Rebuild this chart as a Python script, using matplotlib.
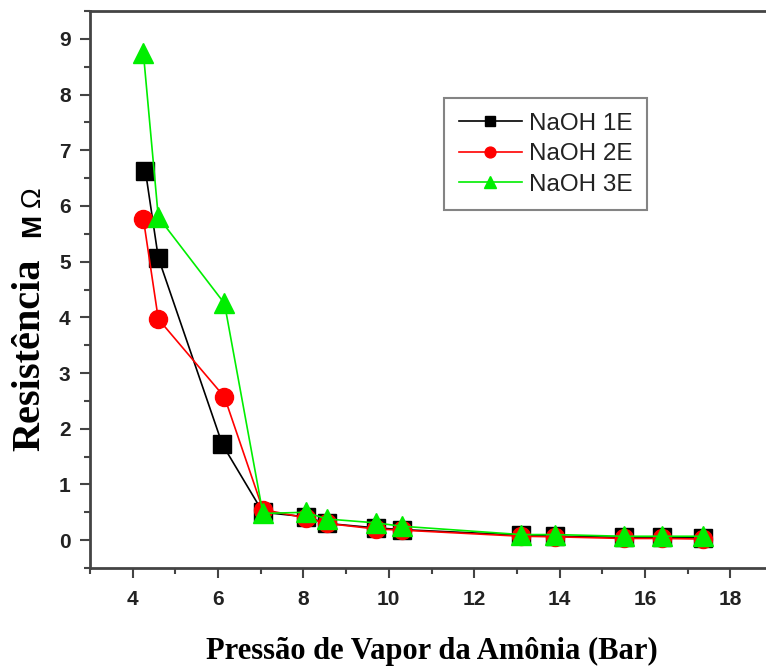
import matplotlib
matplotlib.use("Agg")
import matplotlib.pyplot as plt
from matplotlib.ticker import MultipleLocator

# pressure (bar) for each sample
x_1e = [4.3, 4.6, 6.1, 7.05, 8.05, 8.55, 9.7, 10.3, 13.1, 13.9, 15.5, 16.4, 17.35]
y_1e = [6.62, 5.07, 1.72, 0.50, 0.42, 0.30, 0.22, 0.19, 0.09, 0.07, 0.05, 0.05, 0.04]

x_2e = [4.25, 4.6, 6.15, 7.05, 8.05, 8.55, 9.7, 10.3, 13.1, 13.9, 15.5, 16.4, 17.35]
y_2e = [5.77, 3.97, 2.57, 0.55, 0.40, 0.30, 0.20, 0.18, 0.07, 0.06, 0.03, 0.03, 0.02]

x_3e = [4.25, 4.6, 6.15, 7.05, 8.05, 8.55, 9.7, 10.3, 13.1, 13.9, 15.5, 16.4, 17.35]
y_3e = [8.75, 5.80, 4.25, 0.48, 0.50, 0.38, 0.31, 0.25, 0.10, 0.10, 0.07, 0.07, 0.07]

fig = plt.figure(figsize=(7.66, 6.68), dpi=100)
ax = fig.add_axes([90/766, 100/668, 683/766, 557/668])

ax.plot(x_1e, y_1e, color='black', lw=1.2, marker='s', ms=13, label='NaOH 1E')
ax.plot(x_2e, y_2e, color='#ff0000', lw=1.2, marker='o', ms=13, label='NaOH 2E')
ax.plot(x_3e, y_3e, color='#00ee00', lw=1.2, marker='^', ms=15, label='NaOH 3E')

ax.set_xlim(3, 19)
ax.set_ylim(-0.5, 9.5)
ax.xaxis.set_major_locator(MultipleLocator(2))
ax.xaxis.set_minor_locator(MultipleLocator(1))
ax.yaxis.set_major_locator(MultipleLocator(1))
ax.yaxis.set_minor_locator(MultipleLocator(0.5))

for s in ['left', 'bottom', 'top']:
    ax.spines[s].set_color('#444444')
    ax.spines[s].set_linewidth(2)
ax.spines['right'].set_visible(False)

ax.tick_params(which='major', direction='out', length=7, width=1.5, color='#444444',
               labelsize=15, pad=7)
ax.tick_params(which='minor', direction='out', length=4, width=1.5, color='#444444')
ax.tick_params(axis='x', which='major', pad=9)
for t in ax.get_xticklabels() + ax.get_yticklabels():
    t.set_fontweight('bold')
    t.set_family('Liberation Sans')
    t.set_color('#222222')

ax.set_xlabel('Pressão de Vapor da Amônia (Bar)', family='Liberation Serif',
              fontweight='bold', fontsize=22, labelpad=20)

fig.text(30/766, 1 - 355/668, 'Resistência', rotation=90, ha='center', va='center',
         family='Liberation Serif', fontweight='bold', fontsize=29)
# "M" below, "Ω" above (text reads bottom to top)
fig.text(33/766, 1 - 214/668, 'M', rotation=90, ha='center', va='top',
         family='Liberation Sans', fontweight='bold', fontsize=20)
fig.text(33/766, 1 - 207/668, 'Ω', rotation=90, ha='center', va='bottom',
         family='Liberation Sans', fontsize=20)

leg = ax.legend(loc='upper left', bbox_to_anchor=((444-90)/683, (568-98)/557),
                prop={'family': 'Liberation Sans', 'size': 17.5},
                frameon=True, fancybox=False, handlelength=2.6, borderaxespad=0,
                markerscale=0.6, borderpad=0.6, labelspacing=0.35, handletextpad=0.3)
leg.get_frame().set_edgecolor('#666666')
leg.get_frame().set_linewidth(1.5)
for t in leg.get_texts():
    t.set_color('#222222')

plt.savefig('out.png', dpi=100)
